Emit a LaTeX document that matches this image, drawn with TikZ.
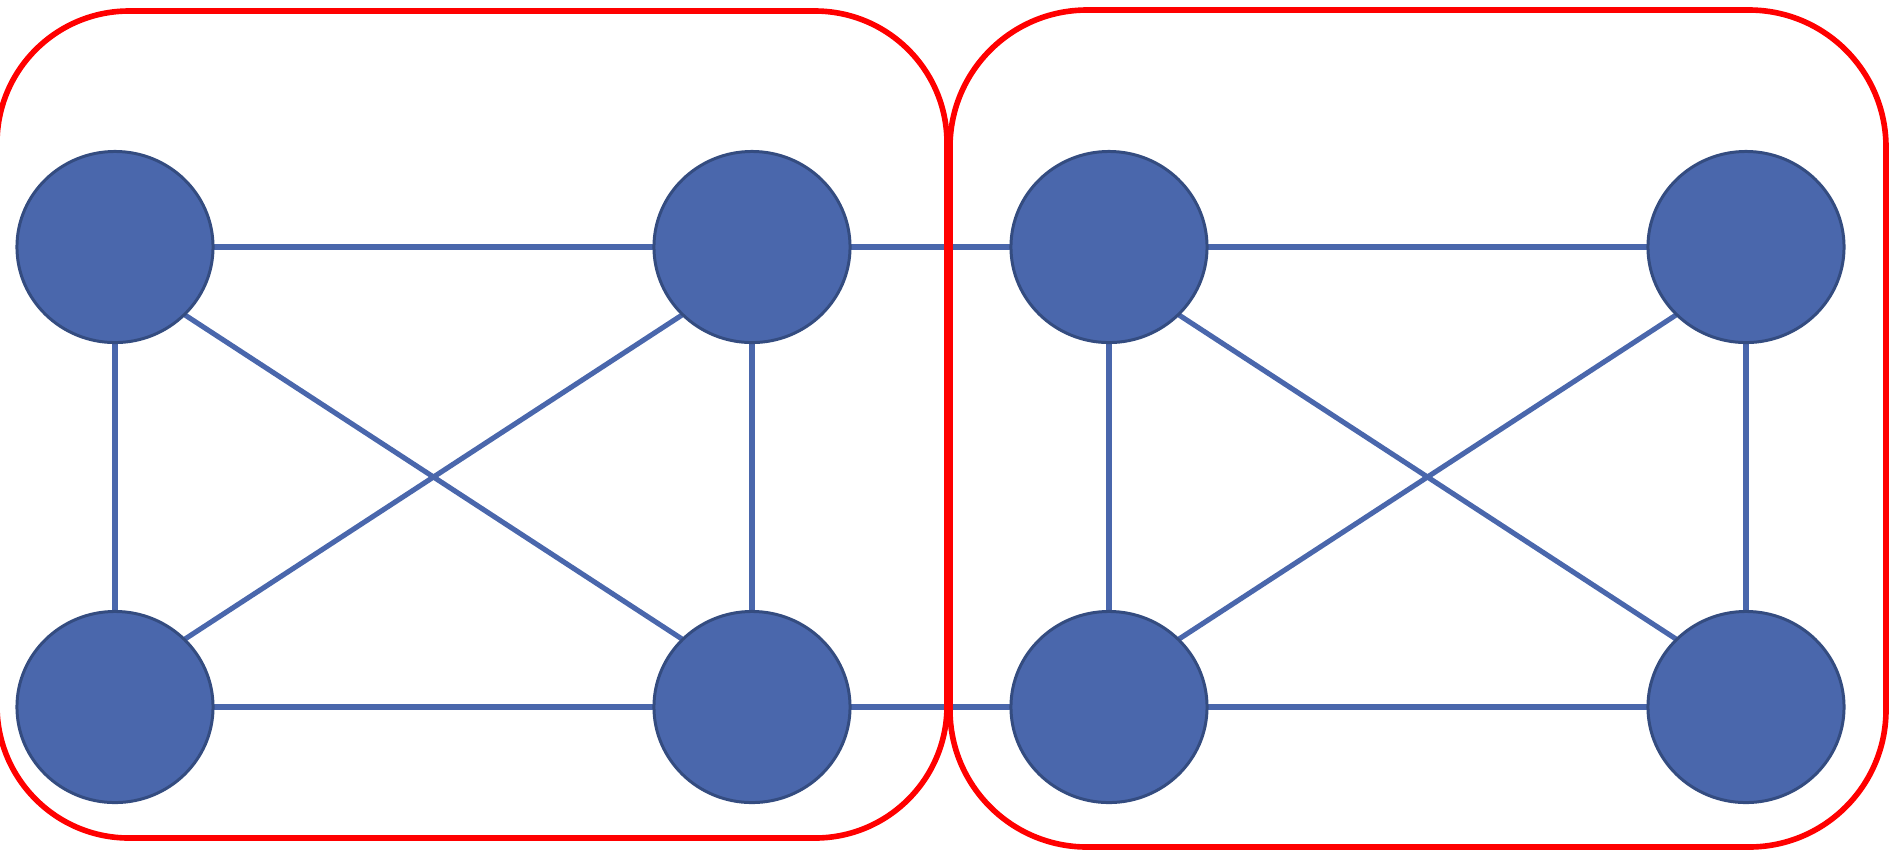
\documentclass[tikz,border=0pt]{standalone}
\usetikzlibrary{shapes.geometric,backgrounds}
\definecolor{nodefill}{RGB}{74,103,172}
\definecolor{nodeline}{RGB}{52,76,128}
\definecolor{edgeblue}{RGB}{74,103,172}
\definecolor{groupred}{RGB}{255,0,0}
\tikzset{
  vertex/.style={ellipse, draw=nodeline, fill=nodefill, line width=0.85pt,
    minimum width=1.96cm, minimum height=1.91cm, inner sep=0pt, outer sep=0pt},
  link/.style={draw=edgeblue, line width=1.45pt},
  hlink/.style={draw=edgeblue, line width=1.65pt},
  group/.style={draw=groupred, line width=1.6pt}
}
\begin{document}
\begin{tikzpicture}[x=0.01cm, y=-0.01cm]
  \useasboundingbox (0,0) rectangle (1893,850);

  % vertices, two 2x2 blocks
  \node[vertex] (a1) at (115,247) {};
  \node[vertex] (b1) at (752,247) {};
  \node[vertex] (c1) at (1109,247) {};
  \node[vertex] (d1) at (1746,247) {};
  \node[vertex] (a2) at (115,707) {};
  \node[vertex] (b2) at (752,707) {};
  \node[vertex] (c2) at (1109,707) {};
  \node[vertex] (d2) at (1746,707) {};

  % edges, drawn beneath the vertices
  \begin{scope}[on background layer]
    \draw[hlink] (a1) -- (b1);
    \draw[hlink] (b1) -- (c1);
    \draw[hlink] (c1) -- (d1);
    \draw[hlink] (a2) -- (b2);
    \draw[hlink] (b2) -- (c2);
    \draw[hlink] (c2) -- (d2);
    \draw[link] (a1.south) -- (a2.north);
    \draw[link] (b1.south) -- (b2.north);
    \draw[link] (c1.south) -- (c2.north);
    \draw[link] (d1.south) -- (d2.north);
    \draw[link] (a1.south east) -- (b2.north west);
    \draw[link] (b1.south west) -- (a2.north east);
    \draw[link] (c1.south east) -- (d2.north west);
    \draw[link] (d1.south west) -- (c2.north east);
  \end{scope}

  % grouping outlines
  \draw[group, rounded corners=1.32cm] (-3,11) rectangle (947,838);
  \draw[group, rounded corners=1.37cm] (950,10) rectangle (1886,847);
\end{tikzpicture}
\end{document}
